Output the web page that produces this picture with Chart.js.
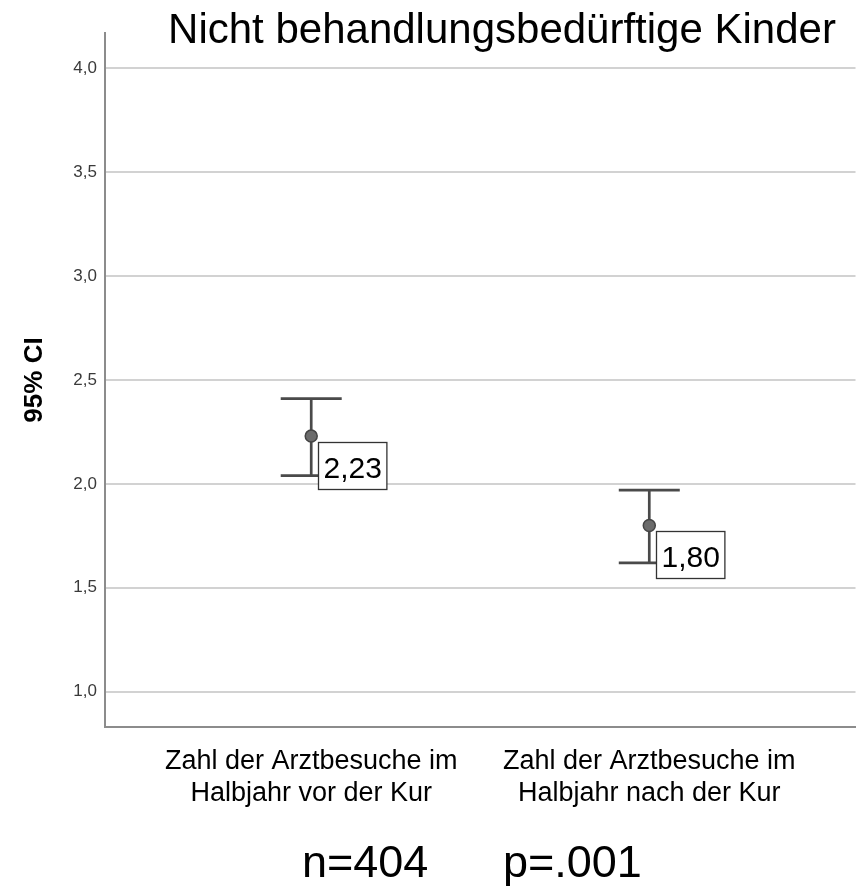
<!DOCTYPE html>
<html lang="de">
<head>
  <meta charset="UTF-8">
  <title>Arztbesuche – Nicht behandlungsbedürftige Kinder</title>
  <script src="https://cdn.jsdelivr.net/npm/chart.js"></script>
  <style>
    body {
      margin: 0;
      background: #fff;
    }
    canvas {
      display: block;
    }
  </style>
</head>
<body>
  <canvas id="grafik" width="863" height="887"></canvas>

  <script>
    // Mittelwerte mit 95%-Konfidenzintervall, vor und nach der Kur
    const kategorien = [
      ['Zahl der Arztbesuche im', 'Halbjahr vor der Kur'],
      ['Zahl der Arztbesuche im', 'Halbjahr nach der Kur']
    ];
    const mittelwerte = [2.23, 1.80];
    const ciUnten = [2.04, 1.62];
    const ciOben = [2.41, 1.97];
    const yTicks = [1.0, 1.5, 2.0, 2.5, 3.0, 3.5, 4.0];
    const titel = 'Nicht behandlungsbedürftige Kinder';
    const fussnote = ['n=404', 'p=.001'];

    const schrift = '"Liberation Sans", Arial, sans-serif';
    const komma = (v, d) => v.toFixed(d).replace('.', ',');

    // senkrechte Linie mit Endstrichen für jedes Intervall
    const fehlerbalken = {
      id: 'fehlerbalken',
      beforeDatasetsDraw(chart) {
        const { ctx, scales: { x, y } } = chart;
        ctx.save();
        ctx.strokeStyle = '#4a4a4a';
        ctx.lineWidth = 2.7;
        mittelwerte.forEach((m, i) => {
          const px = x.getPixelForValue(i);
          const oben = y.getPixelForValue(ciOben[i]);
          const unten = y.getPixelForValue(ciUnten[i]);
          ctx.beginPath();
          ctx.moveTo(px, oben);
          ctx.lineTo(px, unten);
          ctx.moveTo(px - 30.5, oben);
          ctx.lineTo(px + 30.5, oben);
          ctx.moveTo(px - 30.5, unten);
          ctx.lineTo(px + 30.5, unten);
          ctx.stroke();
        });
        ctx.restore();
      },
      afterDatasetsDraw(chart) {
        // Wertekästchen rechts unterhalb des Mittelwerts
        const { ctx, scales: { x, y } } = chart;
        ctx.save();
        ctx.font = '30px ' + schrift;
        ctx.textAlign = 'left';
        ctx.textBaseline = 'alphabetic';
        mittelwerte.forEach((m, i) => {
          const px = x.getPixelForValue(i);
          const py = y.getPixelForValue(m);
          const text = komma(m, 2);
          const w = ctx.measureText(text).width + 10;
          const bx = Math.round(px + 7) + 0.5;
          const by = Math.round(py + 6) + 0.5;
          ctx.fillStyle = '#fff';
          ctx.fillRect(bx, by, w, 47);
          ctx.strokeStyle = '#333';
          ctx.lineWidth = 1.3;
          ctx.strokeRect(bx, by, w, 47);
          ctx.fillStyle = '#000';
          ctx.fillText(text, bx + 5, by + 35);
        });
        ctx.restore();
      }
    };

    // Überschrift und Fußzeile
    const texte = {
      id: 'texte',
      afterDraw(chart) {
        const ctx = chart.ctx;
        ctx.save();
        ctx.fillStyle = '#000';
        ctx.textBaseline = 'alphabetic';
        ctx.font = '42px ' + schrift;
        ctx.textAlign = 'center';
        ctx.fillText(titel, 502, 43);
        ctx.font = '45px ' + schrift;
        ctx.textAlign = 'left';
        ctx.fillText(fussnote[0], 302, 877);
        ctx.fillText(fussnote[1], 503, 877);
        ctx.restore();
      }
    };

    new Chart(document.getElementById('grafik'), {
      type: 'scatter',
      data: {
        datasets: [{
          data: mittelwerte.map((m, i) => ({ x: i, y: m })),
          pointRadius: 6,
          pointHoverRadius: 6,
          pointBackgroundColor: '#6b6b6b',
          pointBorderColor: '#444',
          pointBorderWidth: 1.5
        }]
      },
      options: {
        responsive: false,
        animation: false,
        layout: { padding: { top: 33, right: 5, left: 0, bottom: 0 } },
        plugins: {
          legend: { display: false },
          tooltip: { enabled: false }
        },
        scales: {
          x: {
            type: 'linear',
            min: -0.61,
            max: 1.61,
            afterBuildTicks: s => { s.ticks = kategorien.map((k, i) => ({ value: i })); },
            afterFit: s => { s.height = 160; },
            ticks: {
              callback: v => kategorien[v],
              maxRotation: 0,
              autoSkip: false,
              padding: 19,
              color: '#000',
              font: { family: schrift, size: 27, lineHeight: 1.185 }
            },
            grid: { display: false, drawTicks: false },
            border: { display: true, color: '#8c8c8c', width: 2 }
          },
          y: {
            min: 0.83,
            max: 4.17,
            afterBuildTicks: s => { s.ticks = yTicks.map(v => ({ value: v })); },
            afterFit: s => { s.width = 105; },
            ticks: {
              callback: v => komma(v, 1),
              padding: 8,
              color: '#3a3a3a',
              font: { family: schrift, size: 17 }
            },
            grid: { color: '#d2d2d2', lineWidth: 2, drawTicks: false },
            border: { display: true, color: '#8c8c8c', width: 2 },
            title: {
              display: true,
              text: '95% CI',
              color: '#000',
              padding: { top: 19, bottom: 0 },
              font: { family: schrift, size: 26, weight: 'bold' }
            }
          }
        }
      },
      plugins: [fehlerbalken, texte]
    });
  </script>
</body>
</html>
